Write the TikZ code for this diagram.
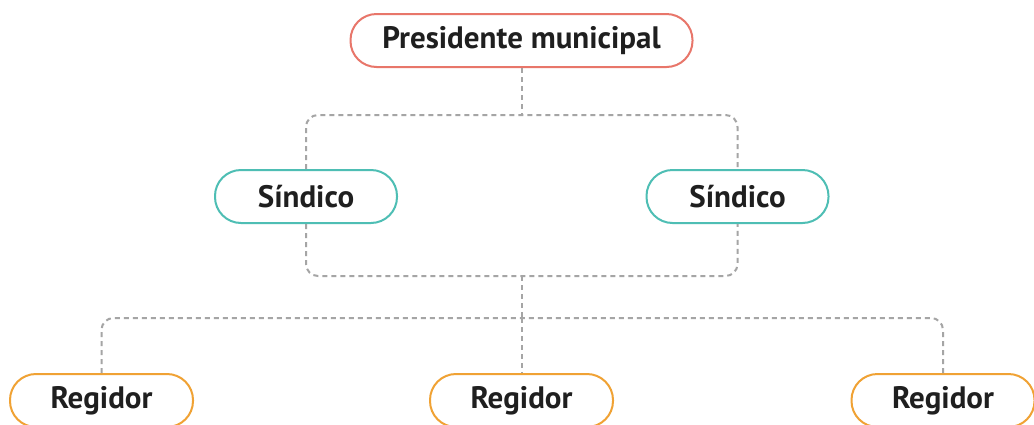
\documentclass[tikz,border=0pt]{standalone}
\usepackage{fontspec}
\setmainfont{PT Sans}
\begin{document}
\begin{tikzpicture}[x=1pt,y=-1pt,
  box/.style={draw, line width=2pt, rounded corners=26pt, minimum height=53pt, inner sep=0pt,
    font=\fontsize{31}{36}\selectfont\bfseries, text=black!88},
  pres/.style={box, draw={rgb,255:red,232;green,118;blue,106}, minimum width=342pt},
  sind/.style={box, draw={rgb,255:red,78;green,190;blue,180}, minimum width=182pt},
  regi/.style={box, draw={rgb,255:red,240;green,162;blue,52}, minimum width=183pt},
  conn/.style={draw={rgb,255:red,165;green,165;blue,165}, line width=2pt, dash pattern=on 5pt off 4pt, rounded corners=12pt}]
\clip (0,0) rectangle (1034,424);
\fill[white] (0,0) rectangle (1034,424);
\node[pres] (pres) at (521.5,40.5) {Presidente municipal};
\node[sind] (sL) at (306,196.5) {Síndico};
\node[sind] (sR) at (737.5,196.5) {Síndico};
\node[regi] (rL) at (101.5,400.5) {Regidor};
\node[regi] (rM) at (521.5,400.5) {Regidor};
\node[regi] (rR) at (943,400.5) {Regidor};
\coordinate (top) at (521.5,115);
\coordinate (bot) at (521.5,276);
\coordinate (mid) at (521.5,318);
\draw[conn] (pres.south) -- (top);
\draw[conn] (sL.north) -- (sL.north |- top) -- (sR.north |- top) -- (sR.north);
\draw[conn] (sL.south) -- (sL.south |- bot) -- (sR.south |- bot) -- (sR.south);
\draw[conn] (bot) -- (mid);
\draw[conn] (rL.north) -- (rL.north |- mid) -- (rR.north |- mid) -- (rR.north);
\draw[conn] (mid) -- (rM.north);
\end{tikzpicture}
\end{document}
